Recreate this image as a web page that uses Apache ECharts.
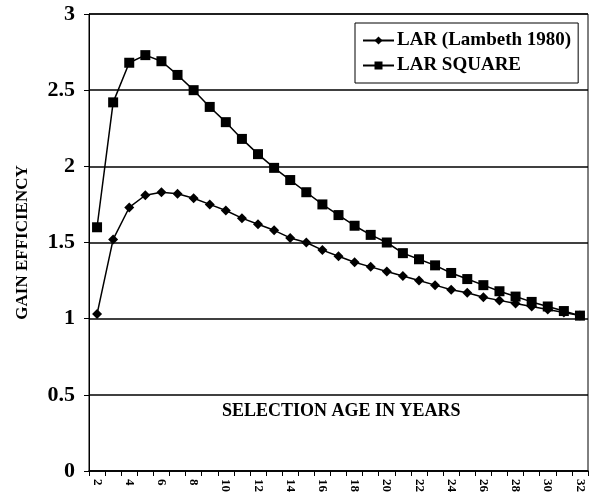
<!DOCTYPE html>
<html>
<head>
<meta charset="utf-8">
<script src="https://cdn.jsdelivr.net/npm/echarts@6/dist/echarts.min.js"></script>
<style>
html,body{margin:0;padding:0;background:#fff;}
#c{width:589px;height:499px;}
</style>
</head>
<body>
<div id="c"></div>
<script>
var ages = ['2','3','4','5','6','7','8','9','10','11','12','13','14','15','16','17','18','19','20','21','22','23','24','25','26','27','28','29','30','31','32'];
var lambeth = [1.03,1.52,1.73,1.81,1.83,1.82,1.79,1.75,1.71,1.66,1.62,1.58,1.53,1.50,1.45,1.41,1.37,1.34,1.31,1.28,1.25,1.22,1.19,1.17,1.14,1.12,1.10,1.08,1.06,1.04,1.02];
var square = [1.60,2.42,2.68,2.73,2.69,2.60,2.50,2.39,2.29,2.18,2.08,1.99,1.91,1.83,1.75,1.68,1.61,1.55,1.50,1.43,1.39,1.35,1.30,1.26,1.22,1.18,1.145,1.11,1.08,1.05,1.02];
var yTicks = [0,0.5,1,1.5,2,2.5,3];
var seriesNames = ['LAR (Lambeth 1980)','LAR SQUARE'];
var xTitle = 'SELECTION AGE IN YEARS';
var yTitle = 'GAIN EFFICIENCY';

var FONT = '"Liberation Serif","Times New Roman",serif';
var chart = echarts.init(document.getElementById('c'), null, {renderer:'canvas'});
chart.setOption({
  animation:false,
  backgroundColor:'#fff',
  title:{
    text:xTitle, left:217, top:397,
    textStyle:{fontFamily:FONT,fontWeight:'bold',fontSize:18,color:'#000'}
  },
  grid:{left:89,right:1,top:14,bottom:28,show:true,borderColor:'#000',borderWidth:1,backgroundColor:'transparent'},
  legend:{
    data:seriesNames,
    orient:'vertical',
    left:355, top:23,
    padding:[8,7,8,7],
    itemGap:6,
    itemWidth:31, itemHeight:10,
    borderColor:'#000', borderWidth:1, backgroundColor:'#fff',
    textStyle:{fontFamily:FONT,fontWeight:'bold',fontSize:19,color:'#000',padding:[0,0,0,-2]}
  },
  xAxis:{
    type:'category',
    data:ages,
    boundaryGap:true,
    axisLine:{lineStyle:{color:'#000',width:1.5}},
    axisTick:{show:true,interval:0,length:5,lineStyle:{color:'#000'}},
    axisLabel:{interval:1,rotate:-90,margin:8,fontFamily:FONT,fontWeight:'bold',fontSize:13,color:'#000'},
    splitLine:{show:false}
  },
  yAxis:{
    type:'value',
    min:0,max:3,interval:0.5,
    name:yTitle,
    nameLocation:'middle',
    nameGap:58,
    nameTextStyle:{fontFamily:FONT,fontWeight:'bold',fontSize:17,color:'#000'},
    axisLine:{show:true,lineStyle:{color:'#000',width:1}},
    axisTick:{show:true,length:5,lineStyle:{color:'#000'}},
    axisLabel:{margin:14,fontFamily:FONT,fontWeight:'bold',fontSize:22,color:'#000',
      formatter:function(v){return String(v);}},
    splitLine:{show:true,lineStyle:{color:'#000',width:1.6}}
  },
  series:[
    {name:seriesNames[0],type:'line',data:lambeth,symbol:'diamond',symbolSize:10,
     lineStyle:{color:'#000',width:1.5},itemStyle:{color:'#000'}},
    {name:seriesNames[1],type:'line',data:square,symbol:'rect',symbolSize:10,
     lineStyle:{color:'#000',width:1.5},itemStyle:{color:'#000'}}
  ]
});
</script>
</body>
</html>
